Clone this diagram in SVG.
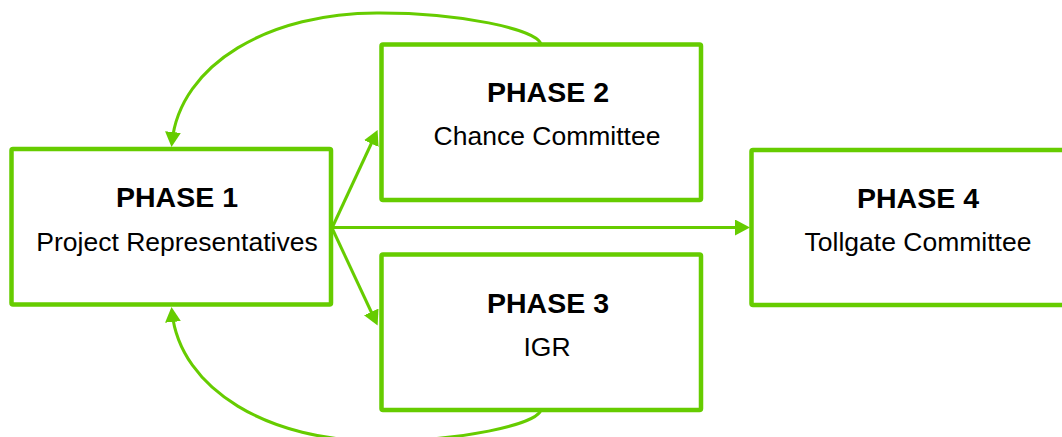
<svg xmlns="http://www.w3.org/2000/svg" width="1062" height="437" viewBox="0 0 1062 437">
  <style>
    .box { fill: #ffffff; stroke: #66cc00; stroke-width: 4.5; }
    .link { fill: none; stroke: #66cc00; stroke-width: 3; }
    .title { font-family: "Liberation Sans", Arial, sans-serif; font-size: 28.5px; font-weight: bold; fill: #000000; text-anchor: middle; }
    .sub { font-family: "Liberation Sans", Arial, sans-serif; font-size: 26.5px; fill: #000000; text-anchor: middle; }
  </style>
  <defs>
    <marker id="arrow" viewBox="0 0 15 16" refX="10" refY="8" markerWidth="15" markerHeight="16" markerUnits="userSpaceOnUse" orient="auto">
      <path d="M0,0 L15,8 L0,16 z" fill="#66cc00"/>
    </marker>
  </defs>

  <rect width="1062" height="437" fill="#ffffff"/>

  <g id="connectors">
    <!-- Phase 1 to Phases 2, 3 and 4 -->
    <line class="link" x1="332" y1="228" x2="375.5" y2="134.5" marker-end="url(#arrow)"/>
    <line class="link" x1="332" y1="228" x2="375.5" y2="321" marker-end="url(#arrow)"/>
    <line class="link" x1="332" y1="227.5" x2="745" y2="227.5" marker-end="url(#arrow)"/>
    <!-- feedback loops back to Phase 1 -->
    <path class="link" d="M541,44 C536,29 460,13 380,13 C270,12 180,64 172,142" marker-end="url(#arrow)"/>
    <path class="link" d="M541,410 C536,425 460,441 380,441 C270,442 180,390 172,312" marker-end="url(#arrow)"/>
  </g>

  <g id="phase1">
    <rect class="box" x="11.5" y="149" width="319.5" height="155.5" rx="1.5"/>
    <text class="title" x="177" y="207">PHASE 1</text>
    <text class="sub" x="177" y="250.5">Project Representatives</text>
  </g>

  <g id="phase2">
    <rect class="box" x="381.5" y="44.5" width="319.5" height="155.5" rx="1.5"/>
    <text class="title" x="548" y="102">PHASE 2</text>
    <text class="sub" x="547" y="144.5">Chance Committee</text>
  </g>

  <g id="phase3">
    <rect class="box" x="381.5" y="254.5" width="319.5" height="155.5" rx="1.5"/>
    <text class="title" x="548" y="312.5">PHASE 3</text>
    <text class="sub" x="547" y="355.5">IGR</text>
  </g>

  <g id="phase4">
    <rect class="box" x="751.5" y="150" width="319.5" height="155" rx="1.5"/>
    <text class="title" x="918" y="207.5">PHASE 4</text>
    <text class="sub" x="918" y="250.5">Tollgate Committee</text>
  </g>
</svg>
